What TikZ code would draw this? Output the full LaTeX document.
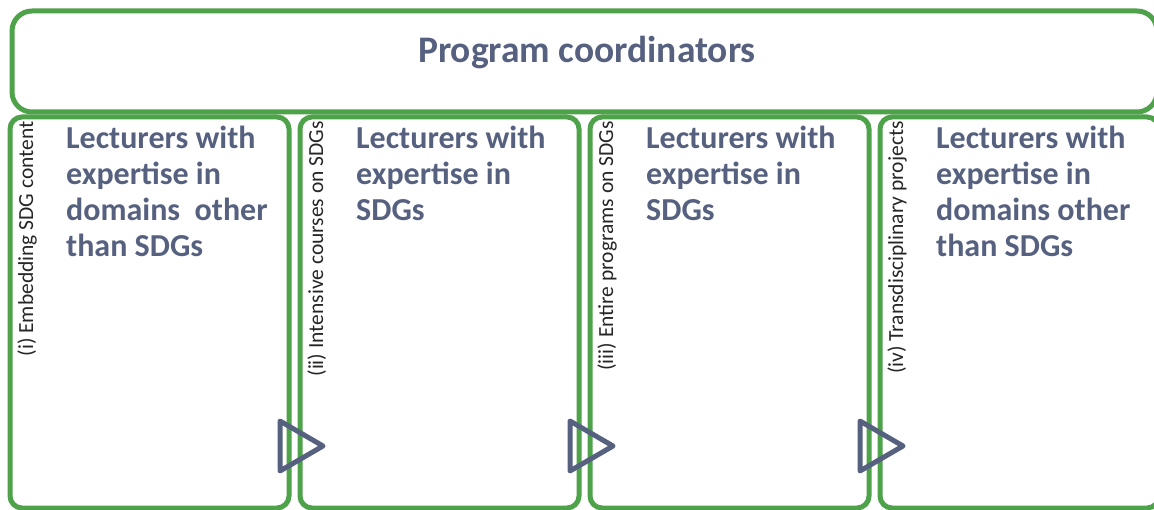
\documentclass[tikz,border=0pt]{standalone}
\usepackage{fontspec}
\setmainfont{Carlito}
\usetikzlibrary{positioning}
\definecolor{frame}{HTML}{4EA24A}
\definecolor{slate}{HTML}{56607F}

\tikzset{
  panel/.style={draw=frame, line width=5pt, rounded corners=12pt},
  headtext/.style={font=\fontsize{37.5}{44}\selectfont\bfseries, text=slate},
  bodytext/.style={font=\fontsize{32}{36}\selectfont\bfseries, text=slate, align=left, anchor=north west, inner sep=0pt},
  sidetext/.style={font=\fontsize{21.5}{25}\selectfont, text=black!85, rotate=90, anchor=base east, inner sep=0pt},
  flow/.style={draw=slate, line width=5pt, line join=round},
}

\begin{document}
\begin{tikzpicture}[x=1pt, y=-1pt]
    \useasboundingbox (0,0) rectangle (1154,510);
    \clip (0,0) rectangle (1154,510);

    % --- coordinators banner across the top ---
    \draw[panel, rounded corners=20pt] (12,11) rectangle (1157,112);
    \node[headtext] (coord) at (587,53) {Program coordinators};

    % --- one column per way of teaching SDGs ---
    \foreach \k/\side/\body in {
        0/{(i) Embedding SDG content}/{Lecturers with\\expertise in\\domains\ \ other\\than SDGs},
        1/{(ii) Intensive courses on SDGs}/{Lecturers with\\expertise in\\SDGs},
        2/{(iii) Entire programs on SDGs}/{Lecturers with\\expertise in\\SDGs},
        3/{(iv) Transdisciplinary projects}/{Lecturers with\\expertise in\\domains other\\than SDGs}} {
      \draw[panel] (10+290*\k,117) rectangle (289+290*\k,508);
      \node[sidetext] (side\k) at (33+290*\k,121) {\side};
      \node[bodytext] (body\k) at (66+290*\k,126) {\body};
    }

    % --- open arrowheads between neighbouring columns ---
    \foreach \k in {0,1,2} {
      \draw[flow] (280+290*\k,421) -- (323+290*\k,446) -- (280+290*\k,471) -- cycle;
    }
\end{tikzpicture}
\end{document}
